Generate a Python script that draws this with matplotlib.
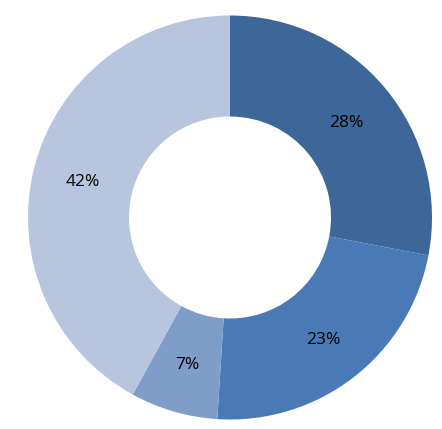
import matplotlib.pyplot as plt
import numpy as np

values = [28, 23, 7, 42]
labels = ["28%", "23%", "7%", "42%"]
colors = ["#3d6699", "#4a7ab5", "#7f9dc9", "#b7c5df"]

fig = plt.figure(figsize=(4.42, 4.29), dpi=100)
W, H = 442, 429
cx, cy, r = 230, 217.5, 202
ax = fig.add_axes([(cx - r) / W, (H - cy - r) / H, 2 * r / W, 2 * r / H])

wedges, texts = ax.pie(values, colors=colors, startangle=90, counterclock=False,
                       radius=1, wedgeprops=dict(width=0.5, edgecolor="none"))
for w, lab in zip(wedges, labels):
    ang = np.deg2rad((w.theta1 + w.theta2) / 2)
    ax.text(0.75 * np.cos(ang), 0.75 * np.sin(ang) - 0.012, lab, ha="center", va="center",
            fontsize=12.5, family="Open Sans", color="black")

ax.set_xlim(-1, 1)
ax.set_ylim(-1, 1)
ax.axis("off")

fig.savefig("out.png", dpi=100)
